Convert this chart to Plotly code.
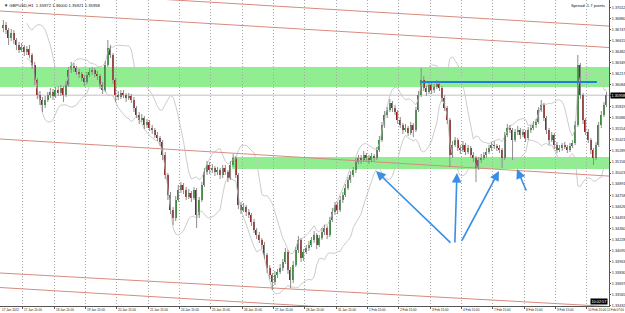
import pandas as pd
import plotly.graph_objects as go

# ---------------- data (GBPUSD, 2-hour bars) ----------------
symbol_title = "▼ GBPUSD,H1  1.35972 1.36000 1.35921 1.35958"
spread_text = "Spread: 1.7 points"
timer_text = "10:02:57"
first_open = 1.36760

closes = [
    1.36800, 1.36740, 1.36644, 1.36704, 1.36620, 1.36560, 1.36500, 1.36536, 1.36476, 1.36512, 1.36440, 1.36320,
    1.36140, 1.35960, 1.35900, 1.35840, 1.35900, 1.35960, 1.35996, 1.35948, 1.36020, 1.35984, 1.36044, 1.35960,
    1.36080, 1.36260, 1.36308, 1.36284, 1.36236, 1.36212, 1.36164, 1.36116, 1.36200, 1.36236, 1.36260, 1.36212,
    1.36188, 1.36080, 1.36020, 1.36320, 1.36524, 1.36440, 1.36140, 1.35960, 1.35936, 1.35984, 1.35960, 1.35924,
    1.35948, 1.35900, 1.35804, 1.35720, 1.35660, 1.35684, 1.35600, 1.35636, 1.35564, 1.35540, 1.35480, 1.35444,
    1.35396, 1.35240, 1.35000, 1.34760, 1.34580, 1.34484, 1.34700, 1.34820, 1.34880, 1.34820, 1.34736, 1.34784,
    1.34724, 1.34820, 1.34520, 1.34700, 1.34880, 1.35036, 1.35120, 1.35060, 1.35084, 1.35036, 1.35060, 1.35000,
    1.35084, 1.35036, 1.34964, 1.35120, 1.35204, 1.35000, 1.34640, 1.34580, 1.34616, 1.34556, 1.34520, 1.34436,
    1.34340, 1.34280, 1.34220, 1.34160, 1.34040, 1.33884, 1.33800, 1.33716, 1.33800, 1.33836, 1.33884, 1.33956,
    1.34076, 1.33860, 1.33740, 1.33920, 1.34100, 1.34220, 1.34004, 1.34076, 1.34124, 1.34160, 1.34220, 1.34280,
    1.34160, 1.34244, 1.34316, 1.34364, 1.34280, 1.34460, 1.34556, 1.34640, 1.34580, 1.34700, 1.34760, 1.34844,
    1.34940, 1.35000, 1.35060, 1.35156, 1.35204, 1.35180, 1.35240, 1.35204, 1.35180, 1.35228, 1.35204, 1.35300,
    1.35420, 1.35600, 1.35720, 1.35780, 1.35864, 1.35804, 1.35756, 1.35660, 1.35600, 1.35540, 1.35564, 1.35504,
    1.35600, 1.35540, 1.35780, 1.35960, 1.36140, 1.36044, 1.35996, 1.36080, 1.36020, 1.36056, 1.36092, 1.36044,
    1.35924, 1.35804, 1.35660, 1.35240, 1.35360, 1.35420, 1.35324, 1.35300, 1.35360, 1.35276, 1.35324, 1.35240,
    1.35204, 1.35084, 1.35180, 1.35204, 1.35240, 1.35276, 1.35324, 1.35360, 1.35348, 1.35324, 1.35300, 1.35204,
    1.35480, 1.35564, 1.35540, 1.35420, 1.35516, 1.35540, 1.35480, 1.35516, 1.35444, 1.35540, 1.35564, 1.35600,
    1.35636, 1.35780, 1.35840, 1.35684, 1.35540, 1.35420, 1.35480, 1.35360, 1.35300, 1.35324, 1.35360, 1.35336,
    1.35300, 1.35348, 1.35384, 1.35600, 1.36320, 1.35960, 1.35660, 1.35516, 1.35420, 1.35300, 1.35204, 1.35360,
    1.35600, 1.35720, 1.35840, 1.35958,
]

highs = [
    1.36860, 1.36836, 1.36764, 1.36752, 1.36740, 1.36644, 1.36596, 1.36584, 1.36560, 1.36548, 1.36560, 1.36464,
    1.36356, 1.36164, 1.36008, 1.35936, 1.35948, 1.35996, 1.36044, 1.36032, 1.36056, 1.36068, 1.36080, 1.36068,
    1.36128, 1.36296, 1.36356, 1.36344, 1.36308, 1.36272, 1.36236, 1.36200, 1.36236, 1.36284, 1.36296, 1.36284,
    1.36248, 1.36212, 1.36116, 1.36368, 1.36620, 1.36560, 1.36464, 1.36164, 1.36008, 1.36020, 1.36020, 1.35984,
    1.35984, 1.35972, 1.35936, 1.35828, 1.35756, 1.35732, 1.35708, 1.35672, 1.35660, 1.35600, 1.35564, 1.35516,
    1.35468, 1.35420, 1.35276, 1.35024, 1.34796, 1.34616, 1.34748, 1.34880, 1.34916, 1.34904, 1.34856, 1.34832,
    1.34808, 1.34856, 1.34844, 1.34736, 1.34916, 1.35084, 1.35168, 1.35156, 1.35132, 1.35108, 1.35096, 1.35084,
    1.35120, 1.35120, 1.35060, 1.35168, 1.35252, 1.35228, 1.35024, 1.34676, 1.34664, 1.34640, 1.34592, 1.34544,
    1.34472, 1.34364, 1.34316, 1.34244, 1.34196, 1.34064, 1.33920, 1.33824, 1.33848, 1.33872, 1.33932, 1.33992,
    1.34124, 1.34100, 1.33896, 1.33968, 1.34136, 1.34268, 1.34244, 1.34112, 1.34160, 1.34208, 1.34256, 1.34328,
    1.34304, 1.34280, 1.34364, 1.34400, 1.34388, 1.34496, 1.34604, 1.34676, 1.34676, 1.34748, 1.34796, 1.34892,
    1.34976, 1.35048, 1.35096, 1.35204, 1.35240, 1.35240, 1.35288, 1.35264, 1.35240, 1.35264, 1.35252, 1.35336,
    1.35468, 1.35636, 1.35768, 1.35816, 1.35912, 1.35888, 1.35840, 1.35780, 1.35696, 1.35624, 1.35612, 1.35588,
    1.35636, 1.35624, 1.35816, 1.36008, 1.36284, 1.36188, 1.36068, 1.36116, 1.36104, 1.36092, 1.36140, 1.36116,
    1.36068, 1.35960, 1.35828, 1.35684, 1.35408, 1.35456, 1.35444, 1.35360, 1.35408, 1.35384, 1.35360, 1.35348,
    1.35276, 1.35228, 1.35216, 1.35252, 1.35276, 1.35324, 1.35360, 1.35396, 1.35408, 1.35372, 1.35360, 1.35324,
    1.35516, 1.35612, 1.35600, 1.35564, 1.35552, 1.35588, 1.35564, 1.35552, 1.35540, 1.35576, 1.35600, 1.35648,
    1.35672, 1.35816, 1.35900, 1.35864, 1.35708, 1.35564, 1.35516, 1.35504, 1.35396, 1.35360, 1.35384, 1.35396,
    1.35360, 1.35384, 1.35420, 1.35648, 1.36440, 1.36344, 1.35984, 1.35684, 1.35552, 1.35444, 1.35324, 1.35396,
    1.35636, 1.35768, 1.35876, 1.36000,
]

lows = [
    1.36712, 1.36692, 1.36560, 1.36608, 1.36572, 1.36500, 1.36464, 1.36476, 1.36428, 1.36440, 1.36404, 1.36272,
    1.36080, 1.35912, 1.35840, 1.35756, 1.35804, 1.35876, 1.35924, 1.35900, 1.35924, 1.35948, 1.35948, 1.35876,
    1.35936, 1.36056, 1.36224, 1.36236, 1.36200, 1.36164, 1.36128, 1.36068, 1.36092, 1.36176, 1.36200, 1.36176,
    1.36140, 1.36032, 1.35972, 1.35996, 1.36296, 1.36404, 1.36092, 1.35876, 1.35900, 1.35912, 1.35924, 1.35876,
    1.35900, 1.35864, 1.35756, 1.35684, 1.35612, 1.35636, 1.35552, 1.35564, 1.35528, 1.35492, 1.35444, 1.35408,
    1.35348, 1.35180, 1.34952, 1.34700, 1.34532, 1.34400, 1.34448, 1.34676, 1.34784, 1.34772, 1.34700, 1.34712,
    1.34676, 1.34700, 1.34364, 1.34484, 1.34676, 1.34856, 1.35000, 1.35012, 1.35024, 1.34988, 1.35000, 1.34952,
    1.34964, 1.35000, 1.34916, 1.34940, 1.35096, 1.34964, 1.34592, 1.34532, 1.34556, 1.34508, 1.34484, 1.34388,
    1.34304, 1.34232, 1.34184, 1.34112, 1.33992, 1.33824, 1.33752, 1.33620, 1.33680, 1.33764, 1.33812, 1.33848,
    1.33932, 1.33812, 1.33644, 1.33704, 1.33896, 1.34064, 1.33956, 1.33968, 1.34052, 1.34088, 1.34136, 1.34184,
    1.34112, 1.34136, 1.34220, 1.34280, 1.34232, 1.34256, 1.34436, 1.34520, 1.34532, 1.34556, 1.34664, 1.34736,
    1.34820, 1.34904, 1.34976, 1.35024, 1.35132, 1.35132, 1.35156, 1.35168, 1.35132, 1.35156, 1.35168, 1.35180,
    1.35276, 1.35396, 1.35564, 1.35684, 1.35756, 1.35756, 1.35720, 1.35612, 1.35564, 1.35492, 1.35516, 1.35468,
    1.35480, 1.35456, 1.35516, 1.35756, 1.35936, 1.36008, 1.35948, 1.35972, 1.35972, 1.35984, 1.36032, 1.36008,
    1.35876, 1.35768, 1.35612, 1.35096, 1.35204, 1.35336, 1.35288, 1.35252, 1.35276, 1.35240, 1.35252, 1.35204,
    1.35156, 1.34916, 1.35060, 1.35144, 1.35180, 1.35204, 1.35252, 1.35288, 1.35312, 1.35288, 1.35264, 1.35084,
    1.35180, 1.35456, 1.35504, 1.35180, 1.35396, 1.35480, 1.35432, 1.35456, 1.35396, 1.35420, 1.35504, 1.35540,
    1.35564, 1.35612, 1.35756, 1.35648, 1.35492, 1.35360, 1.35396, 1.35312, 1.35264, 1.35276, 1.35288, 1.35312,
    1.35264, 1.35276, 1.35324, 1.35360, 1.35576, 1.35912, 1.35612, 1.35480, 1.35384, 1.35252, 1.35120, 1.35180,
    1.35336, 1.35564, 1.35696, 1.35816,
]

# time axis: bar index of 2-hour bars; grid every 12 bars (15:00 each trading day)
x_tick_bars = [7.5 + 12 * k for k in range(19)]
x_tick_text = ["17 Jan 15:00", "18 Jan 15:00", "19 Jan 15:00", "20 Jan 15:00", "21 Jan 15:00",
               "24 Jan 15:00", "25 Jan 15:00", "26 Jan 15:00", "27 Jan 15:00", "28 Jan 15:00",
               "31 Jan 15:00", "1 Feb 15:00", "2 Feb 15:00", "3 Feb 15:00", "4 Feb 15:00",
               "7 Feb 15:00", "8 Feb 15:00", "9 Feb 15:00", "10 Feb 15:00"]
first_label = "17 Jan 2022"
last_label = "11 Feb 07:00"
x_view = [-1.30, 231.94]

y_tick_vals = [1.37012, 1.36880, 1.36747, 1.36615, 1.36482, 1.36349, 1.36217, 1.36084, 1.35952, 1.35819,
               1.35686, 1.35554, 1.35421, 1.35289, 1.35156, 1.35023, 1.34891, 1.34758, 1.34626, 1.34493,
               1.34360, 1.34228, 1.34095, 1.33963, 1.33830, 1.33697, 1.33565, 1.33432]
y_view = [1.33428, 1.37100]

# drawn objects
channel_t = [-1.30, 231.94]
channel_start = [1.37225, 1.36968, 1.35432, 1.33824, 1.33650]
channel_end = [1.36787, 1.36530, 1.34987, 1.33422, 1.33212]

zone_top = [1.36296, 1.35216]
zone_bottom = [1.36056, 1.35072]
zone_start = [-1.30, 87.55]

res_price = 1.36116
res_t = [159.9, 227.3]

arrow_tip_t = [142.7, 173.7, 189.8, 196.7]
arrow_tip_p = [1.35048, 1.35024, 1.35048, 1.35072]
arrow_tail_t = [171.8, 172.9, 175.3, 200.5]
arrow_tail_p = [1.34172, 1.34172, 1.34196, 1.34796]

# ---------------- figure ----------------
n = len(closes)
idx = list(range(n))
opens = [first_open] + closes[:-1]

bull_c, bear_c, wick_c = "#2e8b2e", "#9b1c1c", "#8c8c8c"
font_main = "Liberation Sans, Arial, sans-serif"
fs = 3.8
fx = 3.1

fig = go.Figure()

# green zones
for top, bot, t0 in zip(zone_top, zone_bottom, zone_start):
    fig.add_shape(type="rect", x0=t0, x1=x_view[1], y0=bot, y1=top, xref="x", yref="y",
                  fillcolor="#90ee90", line_width=0, layer="below")

# bid line
fig.add_shape(type="line", x0=x_view[0], x1=x_view[1], y0=closes[-1], y1=closes[-1],
              xref="x", yref="y", line=dict(color="#c0c0c0", width=1), layer="below")

# Bollinger bands
s = pd.Series(closes)
mid = s.rolling(10).mean()
sd = s.rolling(10).std(ddof=0)
for band in (mid + 2 * sd, mid - 2 * sd):
    fig.add_trace(go.Scatter(x=idx, y=band, mode="lines", line=dict(color="#c6c6c6", width=0.9),
                             hoverinfo="skip"))

# channel lines
for a, b in zip(channel_start, channel_end):
    fig.add_trace(go.Scatter(x=channel_t, y=[a, b], mode="lines",
                             line=dict(color="#d98a80", width=1), hoverinfo="skip"))

# wicks
wx, wy = [], []
for i in idx:
    wx += [i, i, None]
    wy += [lows[i], highs[i], None]
fig.add_trace(go.Scatter(x=wx, y=wy, mode="lines", line=dict(color=wick_c, width=1), hoverinfo="skip"))

# bodies
base = [min(o, c) for o, c in zip(opens, closes)]
height = [max(abs(c - o), 0.00003) for o, c in zip(opens, closes)]
colors = [bull_c if c >= o else bear_c for o, c in zip(opens, closes)]
fig.add_trace(go.Bar(x=idx, y=height, base=base, width=0.55, marker=dict(color=colors, line_width=0),
                     hoverinfo="skip"))

# resistance line
fig.add_trace(go.Scatter(x=res_t, y=[res_price, res_price], mode="lines",
                         line=dict(color="#1f7fe0", width=2), hoverinfo="skip"))

# arrows
for tt, tp, at, ap in zip(arrow_tip_t, arrow_tip_p, arrow_tail_t, arrow_tail_p):
    fig.add_annotation(x=tt, y=tp, ax=at, ay=ap, xref="x", yref="y", axref="x", ayref="y",
                       showarrow=True, arrowhead=2, arrowsize=1.2, arrowwidth=1.6,
                       arrowcolor="#3a8ee6", text="")

# x labels (left aligned at grid lines)
fig.add_annotation(x=x_view[0], y=0, xref="x", yref="paper", text=first_label, showarrow=False,
                   xanchor="left", yanchor="top", yshift=-1, xshift=1, borderpad=0,
                   font=dict(size=fx, color="#222", family=font_main))
for tv, tt in zip(x_tick_bars, x_tick_text):
    fig.add_annotation(x=tv, y=0, xref="x", yref="paper", text=tt, showarrow=False,
                       xanchor="left", yanchor="top", yshift=-1, xshift=0.5, borderpad=0,
                       font=dict(size=fx, color="#222", family=font_main))
fig.add_annotation(x=x_view[1], y=0, xref="x", yref="paper", text=last_label, showarrow=False,
                   xanchor="right", yanchor="top", yshift=-1, xshift=16, borderpad=0,
                   font=dict(size=2.9, color="#222", family=font_main))

# title / spread
fig.add_annotation(x=0, y=1, xref="paper", yref="paper", text=symbol_title, showarrow=False,
                   xanchor="left", yanchor="top", xshift=2, yshift=-1,
                   font=dict(size=4.2, color="#111", family=font_main))
fig.add_annotation(x=1, y=1, xref="paper", yref="paper", text=spread_text, showarrow=False,
                   xanchor="right", yanchor="top", xshift=-2, yshift=-1,
                   font=dict(size=4.2, color="#111", family=font_main))

# current price tag and timer
fig.add_annotation(x=1, y=closes[-1], xref="paper", yref="y", text=f"{closes[-1]:.5f}", showarrow=False,
                   xanchor="left", yanchor="middle", xshift=1, bgcolor="#000000", borderpad=0.5,
                   font=dict(size=fs, color="#ffffff", family=font_main))
fig.add_annotation(x=1, y=0, xref="paper", yref="paper", text=timer_text, showarrow=False,
                   xanchor="right", yanchor="bottom", xshift=-1, yshift=1, bgcolor="#000000", borderpad=0.5,
                   font=dict(size=fs, color="#ffffff", family=font_main))

fig.update_layout(
    width=625, height=313,
    margin=dict(l=0, r=16, t=0, b=7),
    paper_bgcolor="white", plot_bgcolor="white",
    showlegend=False, bargap=0,
    xaxis=dict(range=x_view, tickvals=x_tick_bars, showticklabels=False, showgrid=True,
               gridcolor="#a8a8a8", griddash="1px,2px", gridwidth=1, zeroline=False,
               showline=True, linecolor="#555", linewidth=1, ticks="outside", ticklen=2,
               tickcolor="#555", automargin=False),
    yaxis=dict(range=y_view, side="right", tickvals=y_tick_vals,
               ticktext=[f"{v:.5f}" for v in y_tick_vals], showgrid=False, zeroline=False,
               showline=True, linecolor="#555", linewidth=1, ticks="outside", ticklen=1,
               tickcolor="#555", tickfont=dict(size=fs, color="#222", family=font_main),
               automargin=False),
)

fig.write_html("out.html")
